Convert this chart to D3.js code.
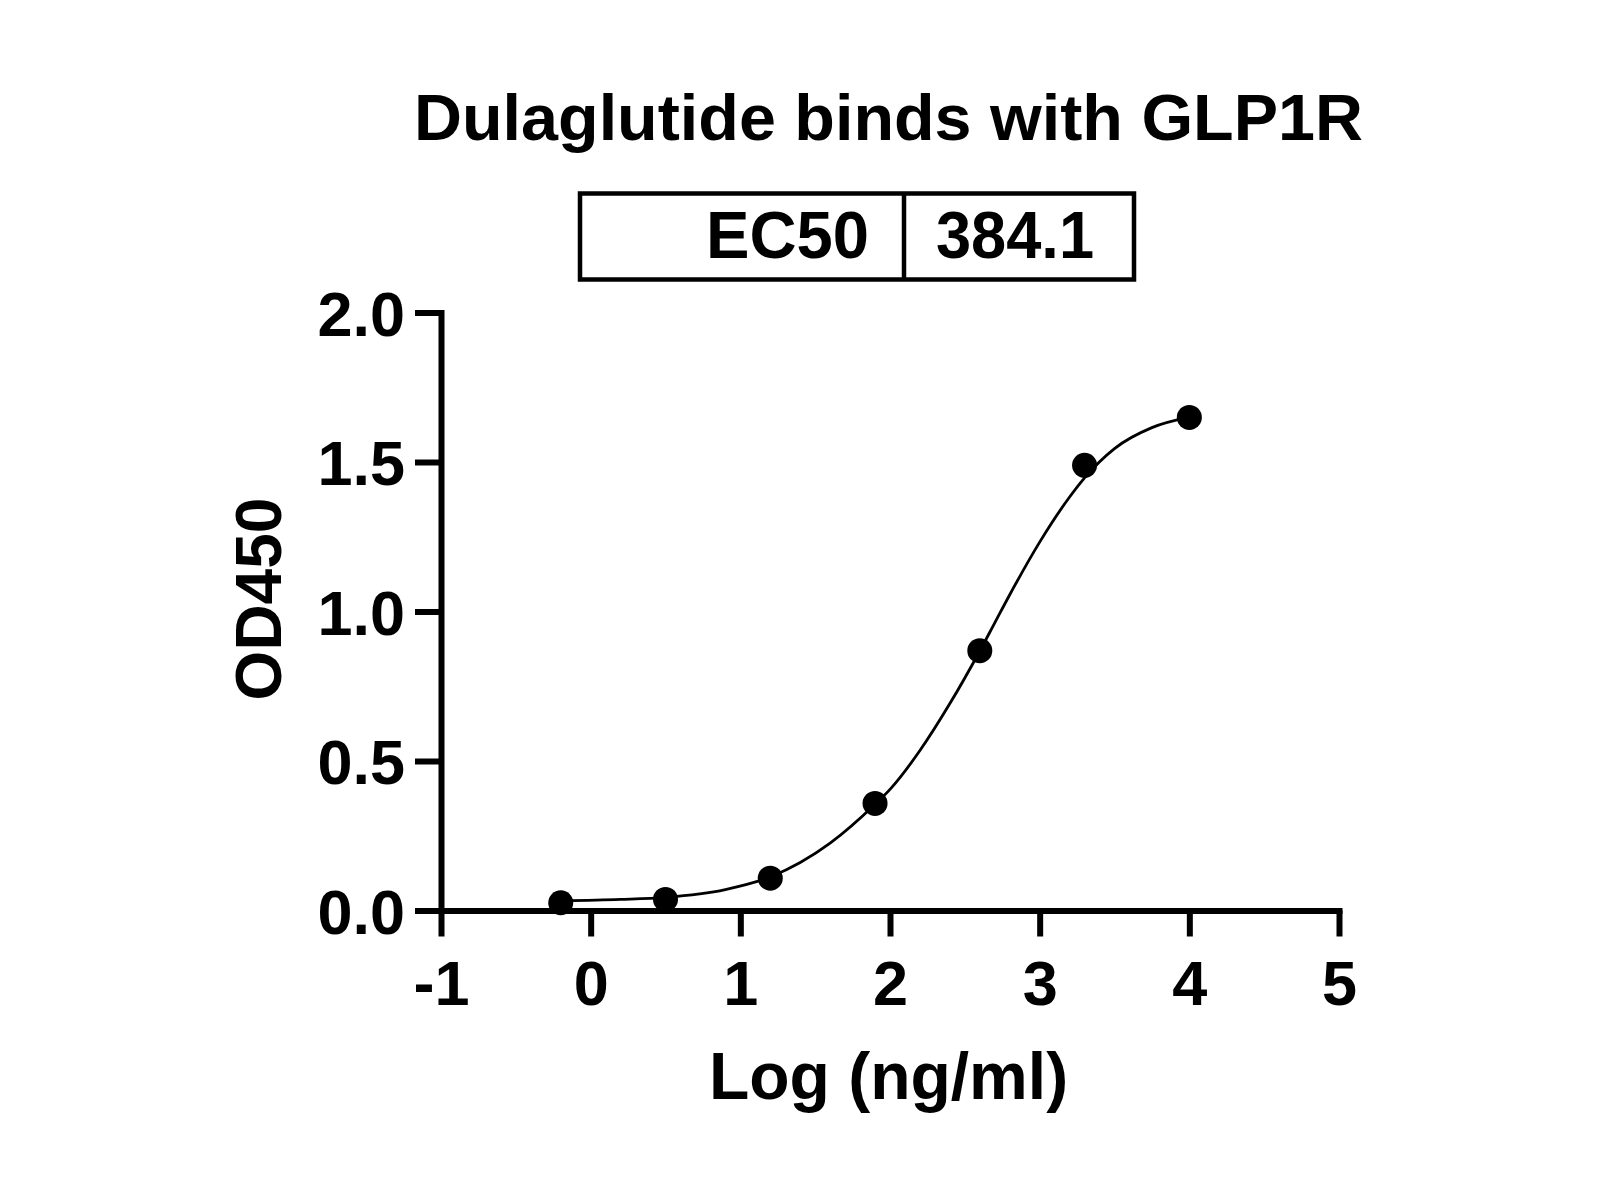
<!DOCTYPE html>
<html>
<head>
<meta charset="utf-8">
<script src="https://cdn.jsdelivr.net/npm/d3@7"></script>
<style>
  html, body { margin: 0; padding: 0; background: #ffffff; }
  svg { display: block; }
  text { font-family: "Liberation Sans", Arial, Helvetica, sans-serif; font-weight: bold; fill: #000; }
</style>
</head>
<body>
<script>
// ---- Data ----
const title = "Dulaglutide binds with GLP1R";
const xLabel = "Log (ng/ml)";
const yLabel = "OD450";
const ec50Label = "EC50";
const ec50Value = "384.1";

// Measured points: log concentration vs OD450
const pointX = [-0.2, 0.5, 1.2, 1.9, 2.6, 3.3, 4.0];
const pointY = [0.026, 0.037, 0.108, 0.358, 0.869, 1.489, 1.649];

// Fitted curve at several x positions
const curveX = [-0.2, 0.2, 0.5, 0.9, 1.2, 1.6, 1.9, 2.0, 2.2, 2.4, 2.6, 2.7, 2.8, 3.0, 3.2, 3.3, 3.5, 3.75, 4.0];
const curveY = [0.032, 0.037, 0.044, 0.07, 0.112, 0.225, 0.355, 0.405, 0.535, 0.692, 0.868, 0.962, 1.056, 1.232, 1.383, 1.447, 1.545, 1.615, 1.65];

const xTicks = [-1, 0, 1, 2, 3, 4, 5];
const yTicks = [0.0, 0.5, 1.0, 1.5, 2.0];

// ---- Layout ----
const W = 1622, H = 1197;
const svg = d3.select("body").append("svg").attr("width", W).attr("height", H);
svg.append("rect").attr("width", W).attr("height", H).attr("fill", "#ffffff");

const x = d3.scaleLinear().domain([-1, 5]).range([441, 1339]);
const y = d3.scaleLinear().domain([0, 2]).range([910.5, 312.5]);

const axisStroke = 6;
const tickLen = 26;

// Y axis
const yAxis = d3.axisLeft(y).tickValues(yTicks).tickFormat(d3.format(".1f"))
  .tickSize(tickLen).tickSizeOuter(0).tickPadding(10);
const gy = svg.append("g").attr("transform", `translate(${x(-1)},0)`).call(yAxis);
// X axis
const xAxis = d3.axisBottom(x).tickValues(xTicks).tickFormat(d => String(d))
  .tickSize(tickLen).tickSizeOuter(0).tickPadding(24);
const gx = svg.append("g").attr("transform", `translate(0,${y(0)})`).call(xAxis);

[gx, gy].forEach(g => {
  g.select(".domain").attr("stroke", "#000").attr("stroke-width", axisStroke).attr("stroke-linecap", "square");
  g.selectAll(".tick line").attr("stroke", "#000").attr("stroke-width", axisStroke);
  g.selectAll(".tick text").attr("font-size", 63).attr("font-family", "Liberation Sans, Arial, sans-serif")
    .attr("font-weight", "bold").attr("fill", "#000");
});
gy.selectAll(".tick text").attr("dy", "0.36em");

// Curve
const curveData = curveX.map((v, i) => [v, curveY[i]]);
const line = d3.line().x(d => x(d[0])).y(d => y(d[1])).curve(d3.curveMonotoneX);
svg.append("path").datum(curveData).attr("d", line)
  .attr("fill", "none").attr("stroke", "#000").attr("stroke-width", 2.8);

// Points
const pts = pointX.map((v, i) => [v, pointY[i]]);
svg.append("g").selectAll("circle").data(pts).join("circle")
  .attr("cx", d => x(d[0])).attr("cy", d => y(d[1])).attr("r", 12.5).attr("fill", "#000");

// Title
svg.append("text").attr("x", 888.5).attr("y", 140).attr("text-anchor", "middle")
  .attr("font-size", 65).attr("textLength", 949).attr("lengthAdjust", "spacingAndGlyphs").text(title);

// EC50 box
const box = svg.append("g");
box.append("rect").attr("x", 580).attr("y", 193.5).attr("width", 554).attr("height", 86)
  .attr("fill", "none").attr("stroke", "#000").attr("stroke-width", 4.5);
box.append("line").attr("x1", 904).attr("x2", 904).attr("y1", 193.5).attr("y2", 279.5)
  .attr("stroke", "#000").attr("stroke-width", 4.5);
box.append("text").attr("x", 869).attr("y", 258).attr("text-anchor", "end")
  .attr("font-size", 66).attr("textLength", 163).attr("lengthAdjust", "spacingAndGlyphs").text(ec50Label);
box.append("text").attr("x", 936).attr("y", 258).attr("text-anchor", "start")
  .attr("font-size", 66).attr("textLength", 158).attr("lengthAdjust", "spacingAndGlyphs").text(ec50Value);

// Axis titles
svg.append("text").attr("x", 888.5).attr("y", 1099).attr("text-anchor", "middle")
  .attr("font-size", 66).text(xLabel);
svg.append("text").attr("transform", "translate(281,599) rotate(-90)").attr("text-anchor", "middle")
  .attr("font-size", 64).text(yLabel);
</script>
</body>
</html>
